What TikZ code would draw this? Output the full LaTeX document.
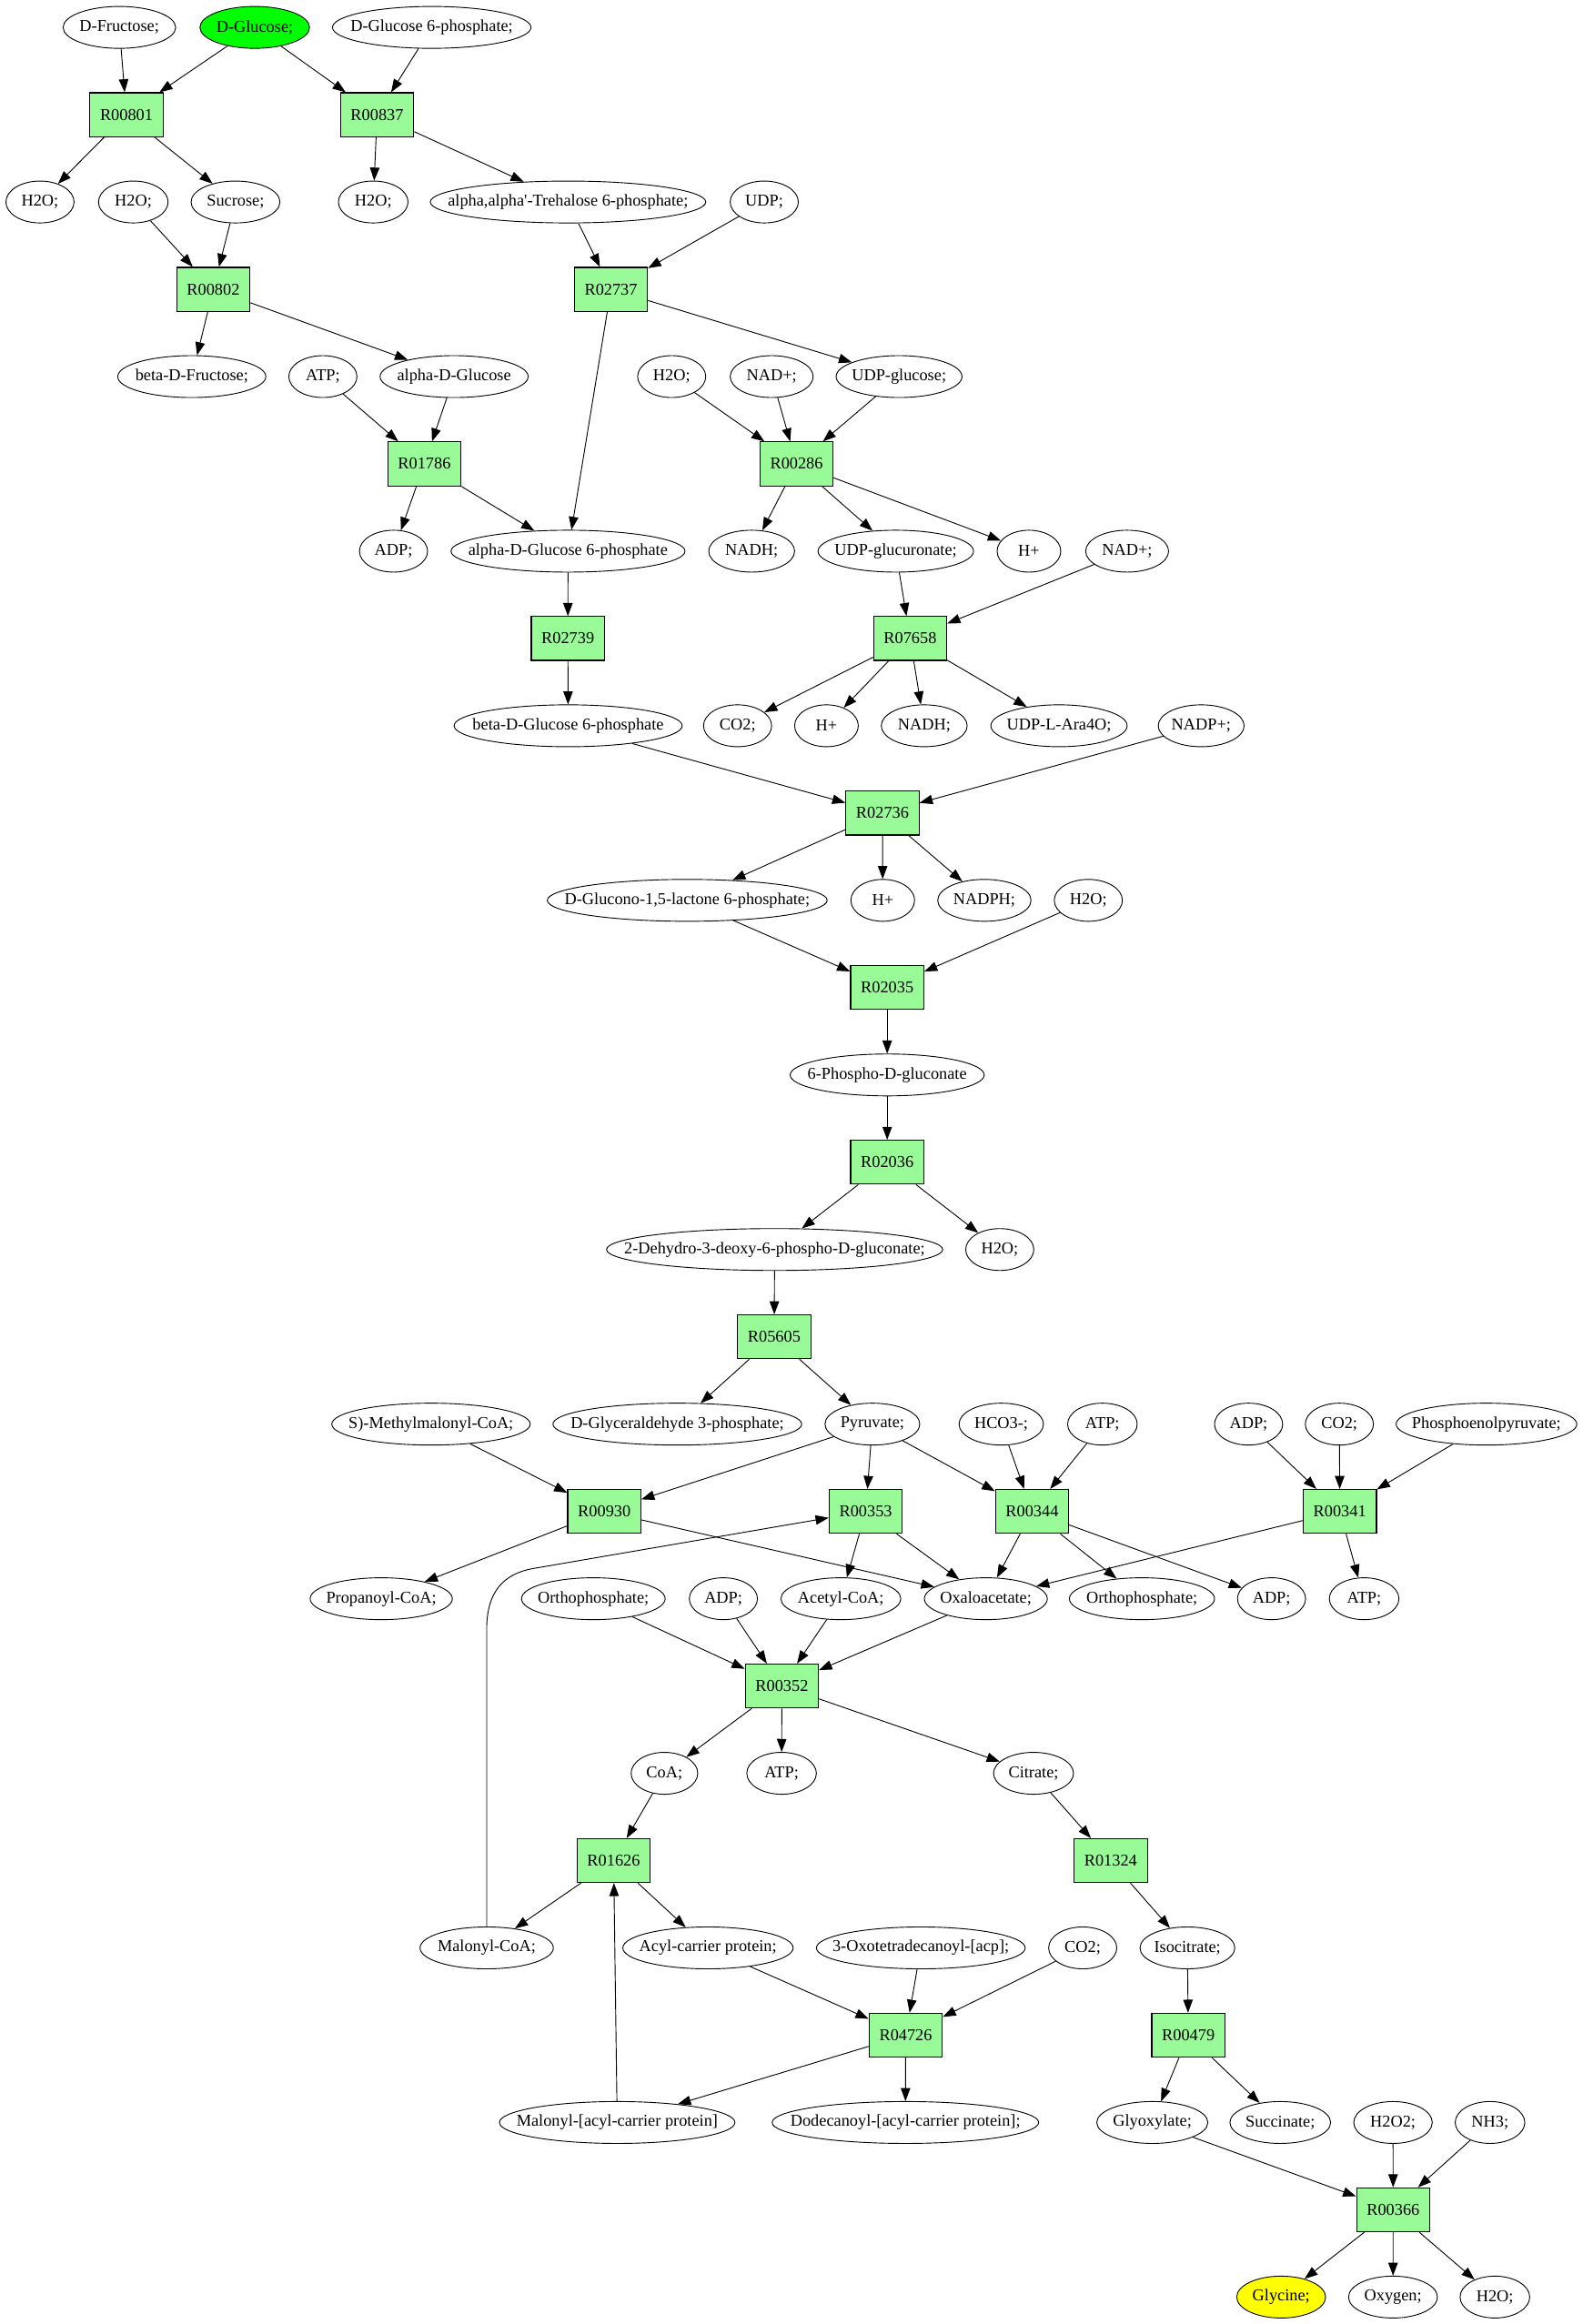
\documentclass[tikz,border=0pt]{standalone}
\usepackage{fontspec}
\setmainfont{Liberation Serif}
\usetikzlibrary{shapes.geometric,arrows.meta}
\definecolor{rxngreen}{RGB}{152,251,152}
\definecolor{srcgreen}{RGB}{0,255,0}
\definecolor{dstyellow}{RGB}{255,255,0}

\begin{document}
\begin{tikzpicture}[x=0.025cm, y=-0.025cm,
  font=\fontsize{8}{9.6}\selectfont,
  >={Triangle[length=0.22cm,width=0.16cm]},
  met/.style={ellipse, draw, fill=white, minimum height=0.707cm, minimum width=#1*0.025cm, inner xsep=-100pt, inner ysep=0pt},
  rxn/.style={rectangle, draw, line width=0.5pt, fill=rxngreen, minimum width=1.235cm, minimum height=0.74cm, inner sep=0pt}]
\def\dy{58.95};
\def\yt{18.5};

\useasboundingbox (0,0) rectangle (1068.2,1569.4);

% sugars and trehalose
\node[met=76] (fru) at (80.6, \yt) {D-Fructose;};
\node[met=74, fill=srcgreen] (glc) at (172, \yt) {D-Glucose;};
\node[met=134] (g6p) at (291.5, \yt) {D-Glucose 6-phosphate;};

\node[rxn] (r00801) at (85.4, \yt + \dy) {R00801};
\node[rxn] (r00837) at (254.6, \yt + \dy) {R00837};

\node[met=46] (h2oa) at (27, \yt + 2*\dy) {H2O;};
\node[met=47] (h2ob) at (90, \yt + 2*\dy) {H2O;};
\node[met=60] (suc) at (159, \yt + 2*\dy) {Sucrose;};
\node[met=47] (h2oc) at (252, \yt + 2*\dy) {H2O;};
\node[met=186] (tre) at (383.5, \yt + 2*\dy) {alpha,alpha\textquotesingle-Trehalose 6-phosphate;};
\node[met=46] (udp) at (516, \yt + 2*\dy) {UDP;};

\node[rxn] (r00802) at (144, \yt + 3*\dy) {R00802};
\node[rxn] (r02737) at (412.5, \yt + 3*\dy) {R02737};

\node[met=100] (bfru) at (129.5, \yt + 4*\dy) {beta-D-Fructose;};
\node[met=46] (atpa) at (218, \yt + 4*\dy) {ATP;};
\node[met=100] (aglc) at (306.6, \yt + 4*\dy) {alpha-D-Glucose};
\node[met=46] (h2od) at (453.5, \yt + 4*\dy) {H2O;};
\node[met=56] (nada) at (521, \yt + 4*\dy) {NAD+;};
\node[met=85] (udpglc) at (607, \yt + 4*\dy) {UDP-glucose;};

\node[rxn] (r01786) at (286.5, \yt + 5*\dy) {R01786};
\node[rxn] (r00286) at (537.8, \yt + 5*\dy) {R00286};

\node[met=46] (adpa) at (265.7, \yt + 6*\dy) {ADP;};
\node[met=158] (ag6p) at (383.5, \yt + 6*\dy) {alpha-D-Glucose 6-phosphate};
\node[met=58] (nadha) at (507.5, \yt + 6*\dy) {NADH;};
\node[met=105] (udpgla) at (604.8, \yt + 6*\dy) {UDP-glucuronate;};
\node[met=43] (hpa) at (694.7, \yt + 6*\dy) {H+};
\node[met=56] (nadb) at (761, \yt + 6*\dy) {NAD+;};

\node[rxn] (r02739) at (383.4, \yt + 7*\dy) {R02739};
\node[rxn] (r07658) at (614.5, \yt + 7*\dy) {R07658};

\node[met=154] (bg6p) at (383.6, \yt + 8*\dy) {beta-D-Glucose 6-phosphate};
\node[met=46] (co2a) at (498, \yt + 8*\dy) {CO2;};
\node[met=43] (hpb) at (558, \yt + 8*\dy) {H+};
\node[met=58] (nadhb) at (624, \yt + 8*\dy) {NADH;};
\node[met=92] (ara) at (715, \yt + 8*\dy) {UDP-L-Ara4O;};
\node[met=58] (nadp) at (811, \yt + 8*\dy) {NADP+;};

% pentose phosphate / Entner-Doudoroff
\node[rxn] (r02736) at (595.8, \yt + 9*\dy) {R02736};

\node[met=189] (glcl) at (464, \yt + 10*\dy) {D-Glucono-1,5-lactone 6-phosphate;};
\node[met=43] (hpc) at (596, \yt + 10*\dy) {H+};
\node[met=63] (nadph) at (664.6, \yt + 10*\dy) {NADPH;};
\node[met=46] (h2oe) at (734.8, \yt + 10*\dy) {H2O;};

\node[rxn] (r02035) at (599, \yt + 11*\dy) {R02035};
\node[met=131] (pglc) at (599, \yt + 12*\dy) {6-Phospho-D-gluconate};
\node[rxn] (r02036) at (599, \yt + 13*\dy) {R02036};

\node[met=227] (kdpg) at (523, \yt + 14*\dy) {2-Dehydro-3-deoxy-6-phospho-D-gluconate;};
\node[met=46] (h2of) at (675, \yt + 14*\dy) {H2O;};

\node[rxn] (r05605) at (522.7, \yt + 15*\dy) {R05605};

% pyruvate node
\node[met=134] (mmcoa) at (291, \yt + 16*\dy) {S)-Methylmalonyl-CoA;};
\node[met=168] (gap) at (457.3, \yt + 16*\dy) {D-Glyceraldehyde 3-phosphate;};
\node[met=64] (pyr) at (589, \yt + 16*\dy) {Pyruvate;};
\node[met=57] (hco3) at (676, \yt + 16*\dy) {HCO3-;};
\node[met=47] (atpb) at (744.3, \yt + 16*\dy) {ATP;};
\node[met=46] (adpb) at (843, \yt + 16*\dy) {ADP;};
\node[met=46] (co2b) at (904.3, \yt + 16*\dy) {CO2;};
\node[met=122] (pep) at (1003.6, \yt + 16*\dy) {Phosphoenolpyruvate;};

\node[rxn] (r00930) at (408, \yt + 17*\dy) {R00930};
\node[rxn] (r00353) at (584.5, \yt + 17*\dy) {R00353};
\node[rxn] (r00344) at (696.8, \yt + 17*\dy) {R00344};
\node[rxn] (r00341) at (904.6, \yt + 17*\dy) {R00341};

\node[met=96] (prcoa) at (257.4, \yt + 18*\dy) {Propanoyl-CoA;};
\node[met=97] (pia) at (400.6, \yt + 18*\dy) {Orthophosphate;};
\node[met=46] (adpc) at (488.4, \yt + 18*\dy) {ADP;};
\node[met=81] (accoa) at (567.7, \yt + 18*\dy) {Acetyl-CoA;};
\node[met=83] (oaa) at (665.6, \yt + 18*\dy) {Oxaloacetate;};
\node[met=98] (pib) at (771, \yt + 18*\dy) {Orthophosphate;};
\node[met=46] (adpd) at (858.5, \yt + 18*\dy) {ADP;};
\node[met=47] (atpc) at (921, \yt + 18*\dy) {ATP;};

\node[rxn] (r00352) at (527.9, \yt + 19*\dy) {R00352};

\node[met=45] (coa) at (448.6, \yt + 20*\dy) {CoA;};
\node[met=47] (atpd) at (527.7, \yt + 20*\dy) {ATP;};
\node[met=54] (cit) at (697.8, \yt + 20*\dy) {Citrate;};

% fatty acids and glyoxylate shunt
\node[rxn] (r01626) at (414.3, \yt + 21*\dy) {R01626};
\node[rxn] (r01324) at (749.9, \yt + 21*\dy) {R01324};

\node[met=90] (mcoa) at (328.6, \yt + 22*\dy) {Malonyl-CoA;};
\node[met=115] (acp) at (478, \yt + 22*\dy) {Acyl-carrier protein;};
\node[met=141] (oxo) at (621.7, \yt + 22*\dy) {3-Oxotetradecanoyl-[acp];};
\node[met=46] (co2c) at (731, \yt + 22*\dy) {CO2;};
\node[met=64] (icit) at (801.7, \yt + 22*\dy) {Isocitrate;};

\node[rxn] (r04726) at (611.5, \yt + 23*\dy) {R04726};
\node[rxn] (r00479) at (802.3, \yt + 23*\dy) {R00479};

\node[met=159] (macp) at (416.7, \yt + 24*\dy) {Malonyl-[acyl-carrier protein]};
\node[met=180] (ddacp) at (611.3, \yt + 24*\dy) {Dodecanoyl-[acyl-carrier protein];};
\node[met=75] (glx) at (778, \yt + 24*\dy) {Glyoxylate;};
\node[met=68] (succ) at (864.4, \yt + 24*\dy) {Succinate;};
\node[met=53] (h2o2) at (940.5, \yt + 24*\dy) {H2O2;};
\node[met=47] (nh3) at (1006, \yt + 24*\dy) {NH3;};

\node[rxn] (r00366) at (940.6, \yt + 25*\dy) {R00366};

\node[met=60, fill=dstyellow] (gly) at (865, \yt + 26*\dy) {Glycine;};
\node[met=60] (oxy) at (940.5, \yt + 26*\dy) {Oxygen;};
\node[met=47] (h2og) at (1009.3, \yt + 26*\dy) {H2O;};

% edges
\draw[->] (fru) -- (r00801);
\draw[->] (glc) -- (r00801);
\draw[->] (glc) -- (r00837);
\draw[->] (g6p) -- (r00837);
\draw[->] (r00801) -- (h2oa);
\draw[->] (r00801) -- (suc);
\draw[->] (r00837) -- (h2oc);
\draw[->] (r00837) -- (tre);
\draw[->] (h2ob) -- (r00802);
\draw[->] (suc) -- (r00802);
\draw[->] (tre) -- (r02737);
\draw[->] (udp) -- (r02737);
\draw[->] (r00802) -- (bfru);
\draw[->] (r00802) -- (aglc);
\draw[->] (r02737) -- (udpglc);
\draw[->] (r02737) -- (ag6p);
\draw[->] (atpa) -- (r01786);
\draw[->] (aglc) -- (r01786);
\draw[->] (h2od) -- (r00286);
\draw[->] (nada) -- (r00286);
\draw[->] (udpglc) -- (r00286);
\draw[->] (r01786) -- (adpa);
\draw[->] (r01786) -- (ag6p);
\draw[->] (r00286) -- (nadha);
\draw[->] (r00286) -- (udpgla);
\draw[->] (r00286) -- (hpa);
\draw[->] (ag6p) -- (r02739);
\draw[->] (udpgla) -- (r07658);
\draw[->] (nadb) -- (r07658);
\draw[->] (r02739) -- (bg6p);
\draw[->] (r07658) -- (co2a);
\draw[->] (r07658) -- (hpb);
\draw[->] (r07658) -- (nadhb);
\draw[->] (r07658) -- (ara);
\draw[->] (bg6p) -- (r02736);
\draw[->] (nadp) -- (r02736);
\draw[->] (r02736) -- (glcl);
\draw[->] (r02736) -- (hpc);
\draw[->] (r02736) -- (nadph);
\draw[->] (glcl) -- (r02035);
\draw[->] (h2oe) -- (r02035);
\draw[->] (r02035) -- (pglc);
\draw[->] (pglc) -- (r02036);
\draw[->] (r02036) -- (kdpg);
\draw[->] (r02036) -- (h2of);
\draw[->] (kdpg) -- (r05605);
\draw[->] (r05605) -- (gap);
\draw[->] (r05605) -- (pyr);

\draw[->] (mmcoa) -- (r00930);
\draw[->] (pyr) -- (r00930);
\draw[->] (pyr) -- (r00353);
\draw[->] (pyr) -- (r00344);
\draw[->] (hco3) -- (r00344);
\draw[->] (atpb) -- (r00344);
\draw[->] (adpb) -- (r00341);
\draw[->] (co2b) -- (r00341);
\draw[->] (pep) -- (r00341);
\draw[->] (r00930) -- (prcoa);
\draw[->] (r00930) -- (oaa);
\draw[->] (r00353) -- (accoa);
\draw[->] (r00353) -- (oaa);
\draw[->] (r00344) -- (oaa);
\draw[->] (r00344) -- (pib);
\draw[->] (r00344) -- (adpd);
\draw[->] (r00341) -- (oaa);
\draw[->] (r00341) -- (atpc);
\draw[->] (mcoa) -- (328.6, 1100) .. controls (328.6, 1075) and (340, 1062.7) .. (360, 1059.2) -- (r00353);

\draw[->] (pia) -- (r00352);
\draw[->] (adpc) -- (r00352);
\draw[->] (accoa) -- (r00352);
\draw[->] (oaa) -- (r00352);
\draw[->] (r00352) -- (coa);
\draw[->] (r00352) -- (atpd);
\draw[->] (r00352) -- (cit);
\draw[->] (coa) -- (r01626);
\draw[->] (cit) -- (r01324);
\draw[->] (r01626) -- (mcoa);
\draw[->] (r01626) -- (acp);
\draw[->] (macp) -- (r01626);
\draw[->] (r01324) -- (icit);
\draw[->] (acp) -- (r04726);
\draw[->] (oxo) -- (r04726);
\draw[->] (co2c) -- (r04726);
\draw[->] (r04726) -- (macp);
\draw[->] (r04726) -- (ddacp);
\draw[->] (icit) -- (r00479);
\draw[->] (r00479) -- (glx);
\draw[->] (r00479) -- (succ);
\draw[->] (glx) -- (r00366);
\draw[->] (h2o2) -- (r00366);
\draw[->] (nh3) -- (r00366);
\draw[->] (r00366) -- (gly);
\draw[->] (r00366) -- (oxy);
\draw[->] (r00366) -- (h2og);

\end{tikzpicture}
\end{document}
